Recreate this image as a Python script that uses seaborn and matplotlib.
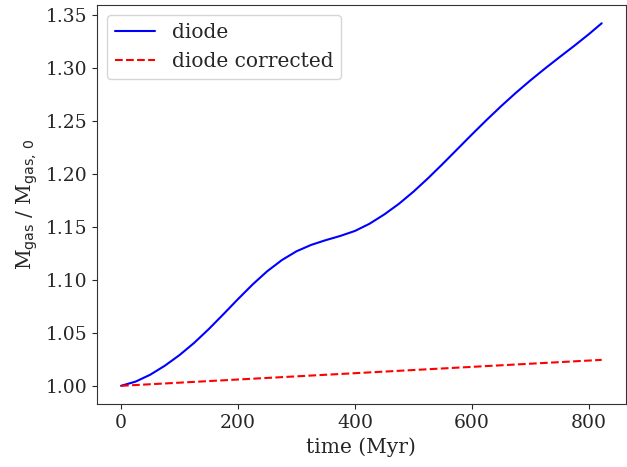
import matplotlib
matplotlib.use("Agg")
import matplotlib.pyplot as plt
import seaborn as sns
import pandas as pd

# time (Myr) and normalised gas mass
time_diode = [0, 25, 50, 75, 100, 125, 150, 175, 200, 225, 250, 275, 300, 325,
              350, 375, 400, 425, 450, 475, 500, 525, 550, 575, 600, 625, 650,
              675, 700, 725, 750, 775, 800, 822]
mgas_diode = [1.0000, 1.0040, 1.0105, 1.0190, 1.0290, 1.0405, 1.0535, 1.0675,
              1.0818, 1.0956, 1.1081, 1.1186, 1.1269, 1.1329, 1.1374, 1.1414,
              1.1461, 1.1529, 1.1616, 1.1716, 1.1831, 1.1958, 1.2093, 1.2232,
              1.2371, 1.2507, 1.2638, 1.2763, 1.2881, 1.2993, 1.3101, 1.3207,
              1.3317, 1.3420]

time_corr = [0, 822]
mgas_corr = [1.000, 1.0245]

sns.set_style("ticks")
plt.rcParams['font.family'] = ['DejaVu Serif']

df_diode = pd.DataFrame({"time": time_diode, "mgas": mgas_diode})
df_corr = pd.DataFrame({"time": time_corr, "mgas": mgas_corr})

fig = plt.figure(figsize=(6.27, 4.67), dpi=100)
ax = fig.add_axes([0.1547, 0.135, 0.8433, 0.854])

sns.lineplot(data=df_diode, x="time", y="mgas", ax=ax, color="blue",
             label="diode", linewidth=1.5)
sns.lineplot(data=df_corr, x="time", y="mgas", ax=ax, color="red",
             linestyle="--", label="diode corrected", linewidth=1.5)

ax.set_xlabel("time (Myr)", fontsize=14.5)
ax.set_ylabel(r"M$_{\rm gas}$ / M$_{\rm gas,\,0}$", fontsize=14.5)
ax.set_xticks([0, 200, 400, 600, 800])
ax.tick_params(labelsize=13.5, length=3.5, width=0.8, pad=3.5)
ax.legend(loc="upper left", fontsize=14.5, frameon=True, framealpha=0.8,
          edgecolor="0.8", fancybox=True)
for s in ax.spines.values():
    s.set_color("0.2")

fig.savefig("out.png", dpi=100)
